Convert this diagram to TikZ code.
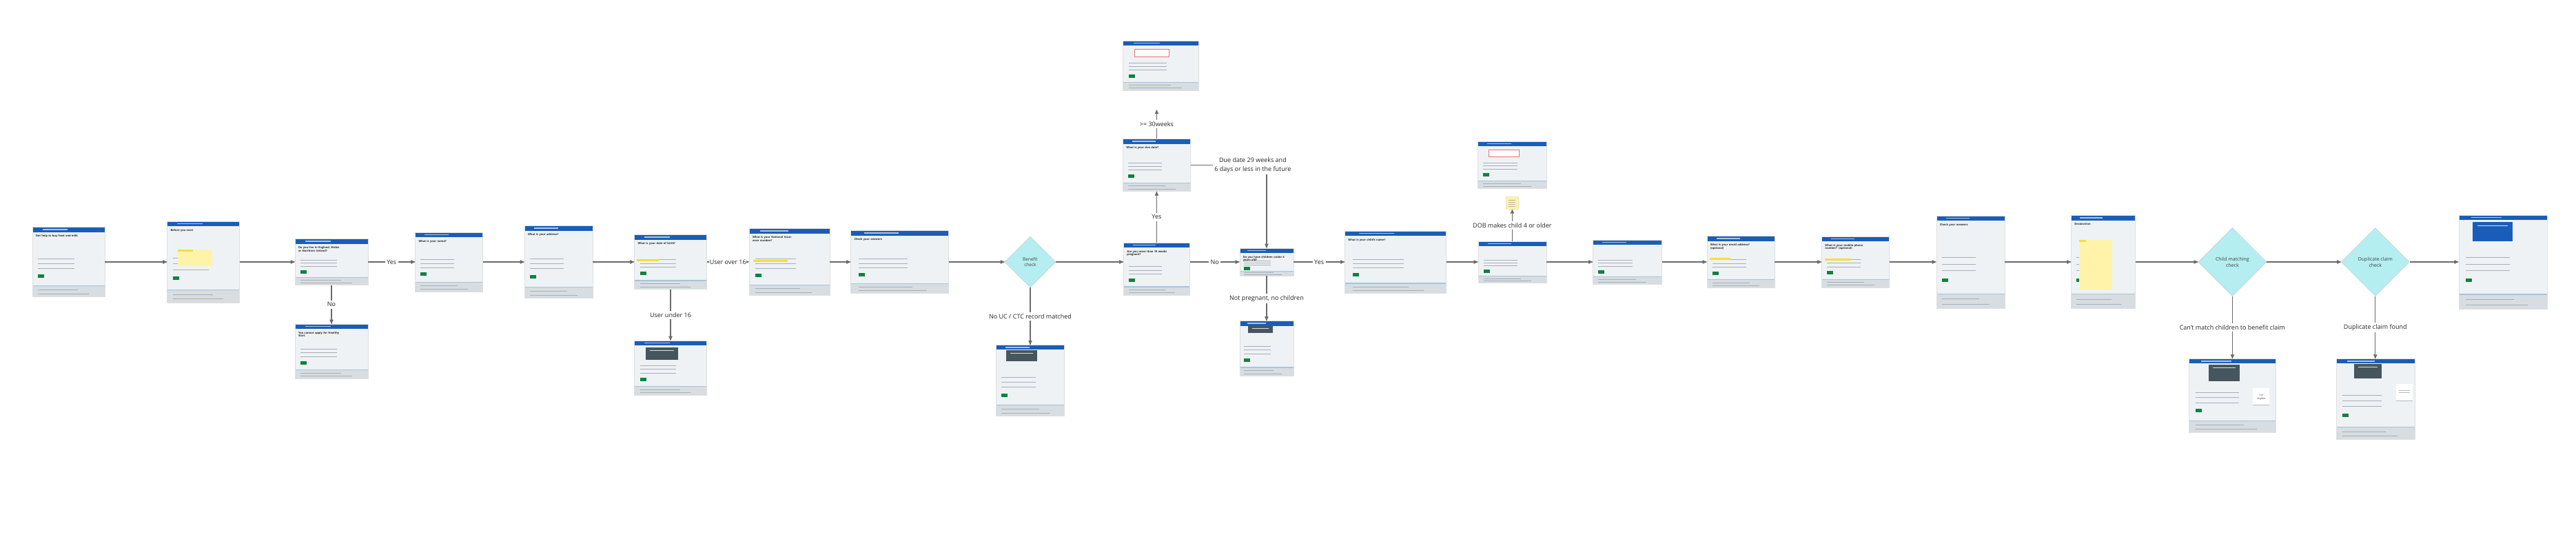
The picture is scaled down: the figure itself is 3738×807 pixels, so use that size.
\documentclass[tikz,border=0pt]{standalone}
\usepackage{fontspec}
\setsansfont{Open Sans}
\usetikzlibrary{shapes, positioning, arrows}

\definecolor{nhsblue}{HTML}{1A5DB8}
\definecolor{pagebg}{HTML}{EEF2F4}
\definecolor{footbg}{HTML}{D7DDE1}
\definecolor{footline}{HTML}{A8C4DC}
\definecolor{nhsgreen}{HTML}{12803F}
\definecolor{linegray}{HTML}{6A6A6A}
\definecolor{textgray}{HTML}{A7B0B7}
\definecolor{checkcyan}{HTML}{B4EEF0}
\definecolor{stickyyellow}{HTML}{FFF3AA}
\definecolor{markyellow}{HTML}{F2DF3A}
\definecolor{bannergray}{HTML}{46565F}
\definecolor{errorred}{HTML}{D9534F}

\tikzset{
  screen/.style n args={3}{rectangle, draw=gray!25, line width=0.5pt, fill=pagebg,
    minimum width=#1pt, minimum height=#2pt, inner sep=0pt,
    path picture={
      % header bar
      \fill[nhsblue] (path picture bounding box.north west) rectangle ([yshift=-7pt]path picture bounding box.north east);
      \fill[white!65!nhsblue] ([shift={({0.14*#1pt},-2.8pt)}]path picture bounding box.north west) rectangle ++({0.35*#1pt},-1.4pt);
      % footer
      \fill[footbg] (path picture bounding box.south west) rectangle ([yshift={0.15*#2pt}]path picture bounding box.south east);
      \fill[footline] ([yshift={0.15*#2pt}]path picture bounding box.south west) rectangle ([yshift={0.15*#2pt+1.2pt}]path picture bounding box.south east);
      \fill[textgray] ([shift={({0.08*#1pt},{0.095*#2pt})}]path picture bounding box.south west) rectangle ++({0.55*#1pt},0.8pt);
      \fill[textgray] ([shift={({0.08*#1pt},{0.04*#2pt})}]path picture bounding box.south west) rectangle ++({0.7*#1pt},0.8pt);
      % body
      \foreach \k in {0,1,2}
        \fill[textgray] ([shift={({0.08*#1pt},{-(0.45+0.07*\k)*#2pt})}]path picture bounding box.north west) rectangle ++({0.5*#1pt},-1pt);
      \fill[nhsgreen] ([shift={({0.08*#1pt},{-0.68*#2pt})}]path picture bounding box.north west) rectangle ++(9pt,-5pt);
      \node[heading] at ([shift={(5pt,-11pt)}]path picture bounding box.north west) {#3};
    }},
  heading/.style={anchor=north west, inner sep=0pt, outer sep=0pt, minimum width=0pt, minimum height=0pt,
    draw=none, fill=none, text width=64pt, align=left,
    font=\sffamily\bfseries\fontsize{4}{4.8}\selectfont, text=black!85},
  decision/.style={diamond, aspect=1, draw=gray!45, fill=checkcyan, inner sep=0pt,
    minimum size=#1pt, align=center, text=black!75},
  cond/.style={fill=white, inner sep=2.5pt, text=black!85,
    font=\sffamily\fontsize{9}{13}\selectfont},
  note/.style={fill=stickyyellow, draw=yellow!50!gray!40, minimum size=18pt, inner sep=0pt,
    path picture={
      \foreach \k in {0,1,2,3}
        \fill[gray!60] ([shift={(4pt,{-(4+3.2*\k)*1pt})}]path picture bounding box.north west) rectangle ++(10pt,-0.7pt);
    }},
  card/.style={fill=white, minimum width=24pt, minimum height=25pt, inner sep=0pt, align=center,
    text=gray!55!black, font=\sffamily\fontsize{3.6}{4.6}\selectfont,
    path picture={
      \fill[gray!55] (path picture bounding box.south west) rectangle ([yshift=1.5pt]path picture bounding box.south east);
    }}
}

\begin{document}
\begin{tikzpicture}[x=1pt, y=-1pt, ->, >=stealth',
    every edge/.style={draw=linegray, line width=1.2pt},
    flow/.style={draw=linegray, line width=1.2pt}]

  \fill[white] (0,0) rectangle (3738,807);
  \useasboundingbox (0,0) rectangle (3738,807);

  % main line of screens
  \node[screen={105}{101}{Get help to buy food and milk}] (start) at (99.5,380) {};
  \node[screen={105}{118}{Before you start}] (before) [right=90pt of start] {};
  \node[screen={106}{67}{Do you live in England, Wales or Northern Ireland?}] (country) [right=80pt of before] {};
  \node[screen={106}{79}{You cannot apply for Healthy Start}] (noCountry) [below=56pt of country] {};
  \node[screen={98}{86}{What is your name?}] (name) [right=68pt of country] {};
  \node[screen={99}{105}{What is your address?}] (address) [right=60pt of name] {};
  \node[screen={105}{79}{What is your date of birth?}] (dob) [right=60pt of address] {};
  \node[screen={105}{79}{}] (under16) [below=74pt of dob] {};
  \node[screen={117}{97}{What is your National Insurance number?}] (nino) [right=61pt of dob] {};
  \node[screen={142}{91}{Check your answers}] (check) [right=30pt of nino] {};

  \node[decision=74, font=\sffamily\fontsize{6.5}{8.5}\selectfont] (benefit) [right=81pt of check] {Benefit\\check};
  \node[screen={99}{103}{}] (noBenefit) [below=83pt of benefit] {};

  \node[screen={96}{76}{Are you more than 10 weeks pregnant?}] (pregnant) [right=98pt of benefit, yshift=-10pt] {};
  \node[screen={98}{76}{What is your due date?}] (dueDate) [above=74pt of pregnant] {};
  \node[screen={110}{72}{}] (dueError) [above=70pt of dueDate, xshift=6pt] {};
  \coordinate[above=42pt of dueDate] (dueMark);

  \node[screen={78}{40}{Do you have children under 4 years old?}] (children) [right=72pt of pregnant, yshift=10pt] {};
  \node[screen={78}{80}{}] (notEligible) [below=65pt of children] {};
  \node[screen={147}{90}{What is your child's name?}] (childName) [right=74pt of children] {};
  \node[screen={99}{60}{}] (childDob) [right=46pt of childName] {};
  \node[note] (sticky) [above=46pt of childDob] {};
  \node[screen={100}{68}{}] (childDobError) [above=12pt of sticky] {};
  \node[screen={100}{64}{}] (anyone) [right=67pt of childDob] {};
  \node[screen={98}{75}{What is your email address? (optional)}] (email) [right=65pt of anyone] {};
  \node[screen={98}{74}{What is your mobile phone number? (optional)}] (mobile) [right=68pt of email] {};
  \node[screen={99}{134}{Check your answers}] (checkAgain) [right=68pt of mobile] {};
  \node[screen={93}{135}{Declaration}] (declaration) [right=96pt of checkAgain] {};

  \node[decision=99, font=\sffamily\fontsize{7}{9}\selectfont] (childMatch) [right=91pt of declaration] {Child matching\\check};
  \node[decision=99, font=\sffamily\fontsize{7}{9}\selectfont] (duplicate) [right=108pt of childMatch] {Duplicate claim\\check};
  \node[screen={128}{136}{}] (success) [right=71pt of duplicate] {};
  \node[screen={126}{107}{}] (noMatch) [below=90.5pt of childMatch] {};
  \node[screen={114}{117}{}] (dupFound) [below=90.5pt of duplicate] {};

  % bits inside the screens
  \fill[stickyyellow] ([shift={(16pt,-41pt)}]before.north west) rectangle ++(50pt,-24pt);
  \fill[markyellow] ([shift={(16pt,-41pt)}]before.north west) rectangle ++(22pt,-3.5pt);
  \fill[stickyyellow] ([shift={(12pt,-36pt)}]declaration.north west) rectangle ++(48pt,-72pt);
  \fill[markyellow] ([shift={(12pt,-36pt)}]declaration.north west) rectangle ++(10pt,-3pt);
  \foreach \s/\dx/\dy/\w in {dob/4/36/32, nino/6/46/50, email/4/32/30, mobile/5/32/38}
    \fill[markyellow] ([shift={({\dx*1pt},{-\dy*1pt})}]\s.north west) rectangle ++({\w*1pt},-3pt);
  \foreach \s/\dx/\dy/\w/\h in {under16/17/10/47/18, noBenefit/15/8/45/16, notEligible/12/7/36/11, noMatch/29/9/45/24, dupFound/26/8/40/21} {
    \fill[bannergray] ([shift={({\dx*1pt},{-\dy*1pt})}]\s.north west) rectangle ++({\w*1pt},{-\h*1pt});
    \fill[white!80!bannergray] ([shift={({\dx*1pt+6pt},{-\dy*1pt-4pt})}]\s.north west) rectangle ++({\w*1pt-12pt},-1.2pt);
  }
  \fill[nhsblue] ([shift={(20pt,-10pt)}]success.north west) rectangle ++(58pt,-28pt);
  \fill[white!80!nhsblue] ([shift={(27pt,-15pt)}]success.north west) rectangle ++(44pt,-1.5pt);
  \draw[errorred!80, line width=0.6pt, fill=white] ([shift={(17pt,-13pt)}]dueError.north west) rectangle ++(50pt,-11pt);
  \draw[errorred!80, line width=0.6pt, fill=white] ([shift={(16pt,-12pt)}]childDobError.north west) rectangle ++(44pt,-10pt);

  \node[card] (noMatchNote) at ([shift={(42pt,-2pt)}]noMatch.center) {not\\eligible};
  \node[card] (dupNote) at ([shift={(42pt,9pt)}]dupFound.center) {};
  \foreach \k in {0,1}
    \fill[gray!55] ([shift={(4pt,{-(9+3*\k)*1pt})}]dupNote.north west) rectangle ++(16pt,-0.7pt);

  % connectors
  \path (start) edge (before)
        (before) edge (country)
        (country) edge node[cond] {Yes} (name)
        (country) edge node[cond] {No} (noCountry)
        (name) edge (address)
        (address) edge (dob)
        (dob) edge node[cond, inner sep=0.3pt] {User over 16} (nino)
        (dob) edge node[cond] {User under 16} (under16)
        (nino) edge (check)
        (check) edge (benefit)
        (benefit) edge node[cond] {No UC / CTC record matched} (noBenefit)
        (pregnant) edge node[cond] {Yes} (dueDate)
        (dueDate) edge node[cond] {>= 30weeks} (dueMark)
        (children) edge node[cond] {Yes} (childName)
        (children) edge node[cond] {Not pregnant, no children} (notEligible)
        (childName) edge (childDob)
        (childDob) edge node[cond] {DOB makes child 4 or older} (sticky)
        (childDob) edge (anyone)
        (anyone) edge (email)
        (email) edge (mobile)
        (mobile) edge (checkAgain)
        (checkAgain) edge (declaration)
        (declaration) edge (childMatch)
        (childMatch) edge (duplicate)
        (childMatch) edge node[cond] {Can't match children to benefit claim} (noMatch)
        (duplicate) edge (success)
        (duplicate) edge node[cond] {Duplicate claim found} (dupFound);

  \draw[flow] (benefit.east) -- (benefit.east -| pregnant.west);
  \draw[flow] (children.west -| pregnant.east) -- node[cond] {No} (children.west);
  \draw[flow] (dueDate.east) -| node[cond, xshift=-20pt, align=center] {Due date 29 weeks and\\6 days or less in the future} (children.north);
\end{tikzpicture}
\end{document}
